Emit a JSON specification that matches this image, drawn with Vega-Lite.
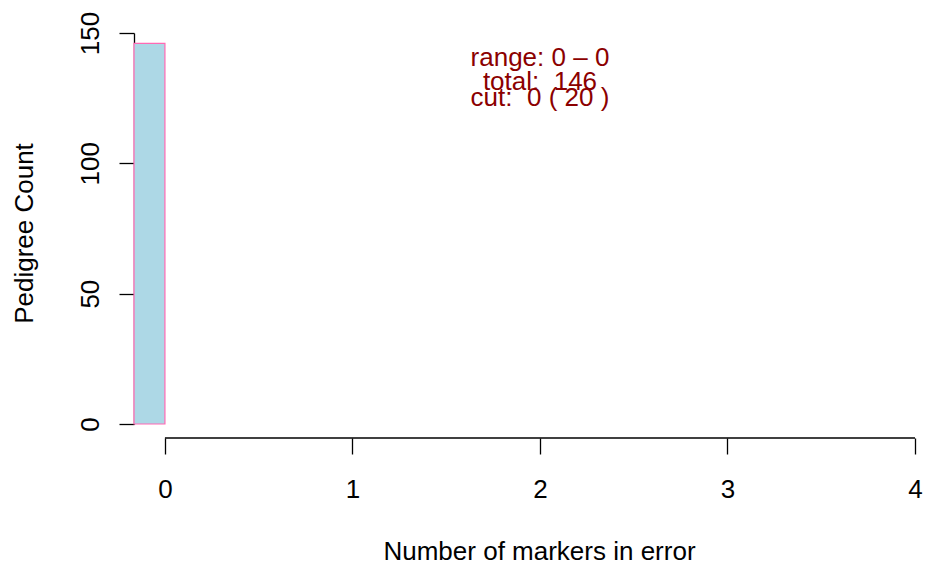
{
  "$schema": "https://vega.github.io/schema/vega-lite/v6.json",
  "autosize": "none",
  "padding": {"left": 134, "top": 33, "right": 13, "bottom": 140},
  "width": 781,
  "height": 391,
  "background": "white",
  "config": {
    "view": {"stroke": null},
    "font": "Liberation Sans",
    "axis": {"labelFont": "Liberation Sans", "titleFont": "Liberation Sans", "labelFontSize": 26, "titleFontSize": 26, "titleFontWeight": "normal", "labelColor": "black", "titleColor": "black", "domainColor": "black", "tickColor": "black", "grid": false}
  },
  "datasets": {
    "bars": [{"bin_start": -0.165, "bin_end": 0, "count": 146}],
    "notes": [
      {"label": "range: 0 – 0", "x": 2, "y": 137.2},
      {"label": "total:\u00a0 146", "x": 2, "y": 128.2},
      {"label": "cut:\u00a0 0 ( 20 )", "x": 2, "y": 122.0}
    ],
    "axisline": [{"from": 0, "to": 4, "y": -5.37}]
  },
  "layer": [
    {
      "data": {"name": "bars"},
      "mark": {"type": "bar", "fill": "#ADD8E6", "stroke": "#FF69B4", "strokeWidth": 1.2},
      "encoding": {
        "x": {"field": "bin_start", "type": "quantitative", "scale": {"domain": [-0.165, 4], "nice": false, "zero": false},
          "axis": {"title": "Number of markers in error", "values": [0, 1, 2, 3, 4], "format": "d", "domain": false, "offset": 14, "tickSize": 16, "tickWidth": 1.3, "labelPadding": 22, "labelBaseline": "top", "titlePadding": 36, "titleX": 405, "titleAlign": "center", "labelFlush": false}},
        "x2": {"field": "bin_end"},
        "y": {"field": "count", "type": "quantitative", "scale": {"domain": [0, 150], "nice": false},
          "axis": {"title": "Pedigree Count", "values": [0, 50, 100, 150], "format": "d", "tickSize": 15, "tickWidth": 1.3, "domainWidth": 1.3, "labelAngle": -90, "labelAlign": "center", "labelBaseline": "alphabetic", "labelPadding": 21, "titlePadding": 45, "titleBaseline": "alphabetic", "titleY": 200, "titleAlign": "center", "labelFlush": false}},
        "y2": {"datum": 0}
      }
    },
    {
      "data": {"name": "axisline"},
      "mark": {"type": "rule", "color": "black", "strokeWidth": 1.3, "clip": false},
      "encoding": {
        "x": {"field": "from", "type": "quantitative"},
        "x2": {"field": "to"},
        "y": {"field": "y", "type": "quantitative"}
      }
    },
    {
      "data": {"name": "notes"},
      "mark": {"type": "text", "color": "#8B0000", "fontSize": 26, "font": "Liberation Sans", "align": "center", "baseline": "alphabetic"},
      "encoding": {
        "x": {"field": "x", "type": "quantitative"},
        "y": {"field": "y", "type": "quantitative"},
        "text": {"field": "label"}
      }
    }
  ]
}
